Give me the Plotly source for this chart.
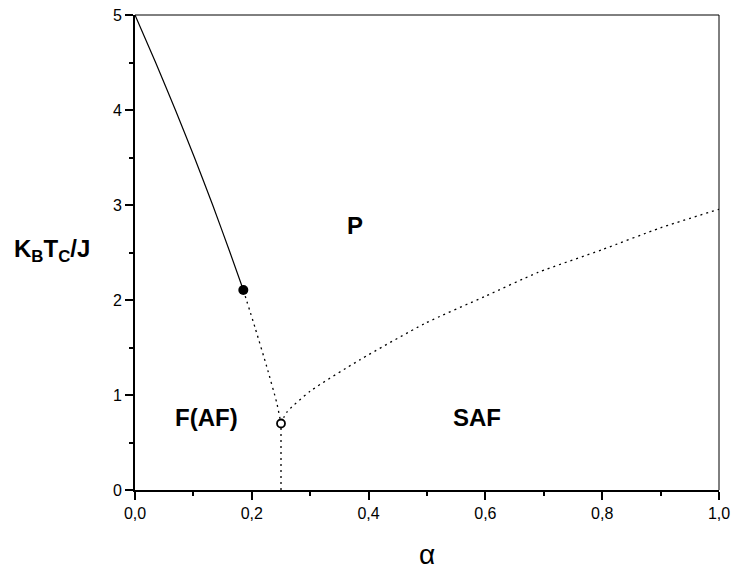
import plotly.graph_objects as go

# Phase boundaries of the model (alpha vs. reduced critical temperature)
alpha_solid = [0.0, 0.0353, 0.0692, 0.1018, 0.1330, 0.1627, 0.1855]
tc_solid = [5.0, 4.50, 4.00, 3.50, 3.00, 2.50, 2.105]

alpha_dot_f = [0.1855, 0.206, 0.2255, 0.2426, 0.25]
tc_dot_f = [2.105, 1.70, 1.30, 0.92, 0.70]

alpha_vert = [0.25, 0.25]
tc_vert = [0.0, 0.70]

alpha_saf = [0.25, 0.26, 0.30, 0.385, 0.497, 0.60, 0.69, 0.80, 0.90, 1.0]
tc_saf = [0.70, 0.82, 1.04, 1.37, 1.755, 2.04, 2.29, 2.53, 2.76, 2.955]

# Special points
tricritical = (0.1855, 2.105)
multicritical = (0.25, 0.70)

# Axis ticks
x_ticks = [0.0, 0.2, 0.4, 0.6, 0.8, 1.0]
x_ticktext = ["0,0", "0,2", "0,4", "0,6", "0,8", "1,0"]
y_ticks = [0, 1, 2, 3, 4, 5]
y_ticktext = ["0", "1", "2", "3", "4", "5"]

# Phase labels
phase_names = ["P", "F(AF)", "SAF"]
phase_alpha = [0.377, 0.1216, 0.5856]
phase_tc = [2.78, 0.758, 0.768]

FONT = "Liberation Sans, Arial, sans-serif"
DOT = "2px,4px"

fig = go.Figure()
fig.add_trace(go.Scatter(x=alpha_solid, y=tc_solid, mode="lines",
                         line=dict(color="black", width=1.2, shape="spline", smoothing=0.5)))
fig.add_trace(go.Scatter(x=alpha_dot_f, y=tc_dot_f, mode="lines",
                         line=dict(color="black", width=1.3, dash=DOT, shape="spline", smoothing=0.6)))
fig.add_trace(go.Scatter(x=alpha_vert, y=tc_vert, mode="lines",
                         line=dict(color="black", width=1.3, dash=DOT)))
fig.add_trace(go.Scatter(x=alpha_saf, y=tc_saf, mode="lines",
                         line=dict(color="black", width=1.3, dash=DOT, shape="spline", smoothing=0.6)))
fig.add_trace(go.Scatter(x=[tricritical[0]], y=[tricritical[1]], mode="markers",
                         marker=dict(symbol="circle", size=10, color="black")))
fig.add_trace(go.Scatter(x=[multicritical[0]], y=[multicritical[1]], mode="markers",
                         marker=dict(symbol="circle", size=8, color="white",
                                     line=dict(color="black", width=1.8))))

for name, a, t in zip(phase_names, phase_alpha, phase_tc):
    fig.add_annotation(x=a, y=t, text=f"<b>{name}</b>", showarrow=False,
                       font=dict(family=FONT, size=24, color="black"))

# Axis titles
fig.add_annotation(xref="paper", yref="paper", x=0.5, y=-0.1726, text="α",
                   xanchor="center", yanchor="bottom",
                   showarrow=False, font=dict(family=FONT, size=28, color="black"))
fig.add_annotation(xref="paper", yref="paper", x=-0.142, y=0.505,
                   text="<b>K<sub>B</sub>T<sub>C</sub>/J</b>",
                   xanchor="center", yanchor="middle",
                   showarrow=False, font=dict(family=FONT, size=24, color="black"))

# Thin top and right frame lines
fig.add_shape(type="line", xref="paper", yref="paper", x0=0, x1=1, y0=1, y1=1,
              line=dict(color="black", width=1))
fig.add_shape(type="line", xref="paper", yref="paper", x0=1, x1=1, y0=0, y1=1,
              line=dict(color="black", width=1))

axis_common = dict(showgrid=False, zeroline=False, showline=True, linecolor="black",
                   linewidth=2, ticks="outside", ticklen=8, tickwidth=2,
                   tickcolor="black", automargin=False,
                   tickfont=dict(family=FONT, size=16, color="black"))

fig.update_xaxes(range=[0, 1], tickvals=x_ticks, ticktext=x_ticktext,
                 minor=dict(dtick=0.1, ticks="outside", ticklen=4, tickwidth=2, tickcolor="black"),
                 **axis_common)
fig.update_yaxes(range=[0, 5], tickvals=y_ticks, ticktext=y_ticktext,
                 minor=dict(dtick=0.5, ticks="outside", ticklen=4, tickwidth=2, tickcolor="black"),
                 **axis_common)

fig.update_layout(width=734, height=573, showlegend=False,
                  plot_bgcolor="white", paper_bgcolor="white",
                  margin=dict(l=135, r=15, t=15, b=83))

fig.write_html("out.html")
